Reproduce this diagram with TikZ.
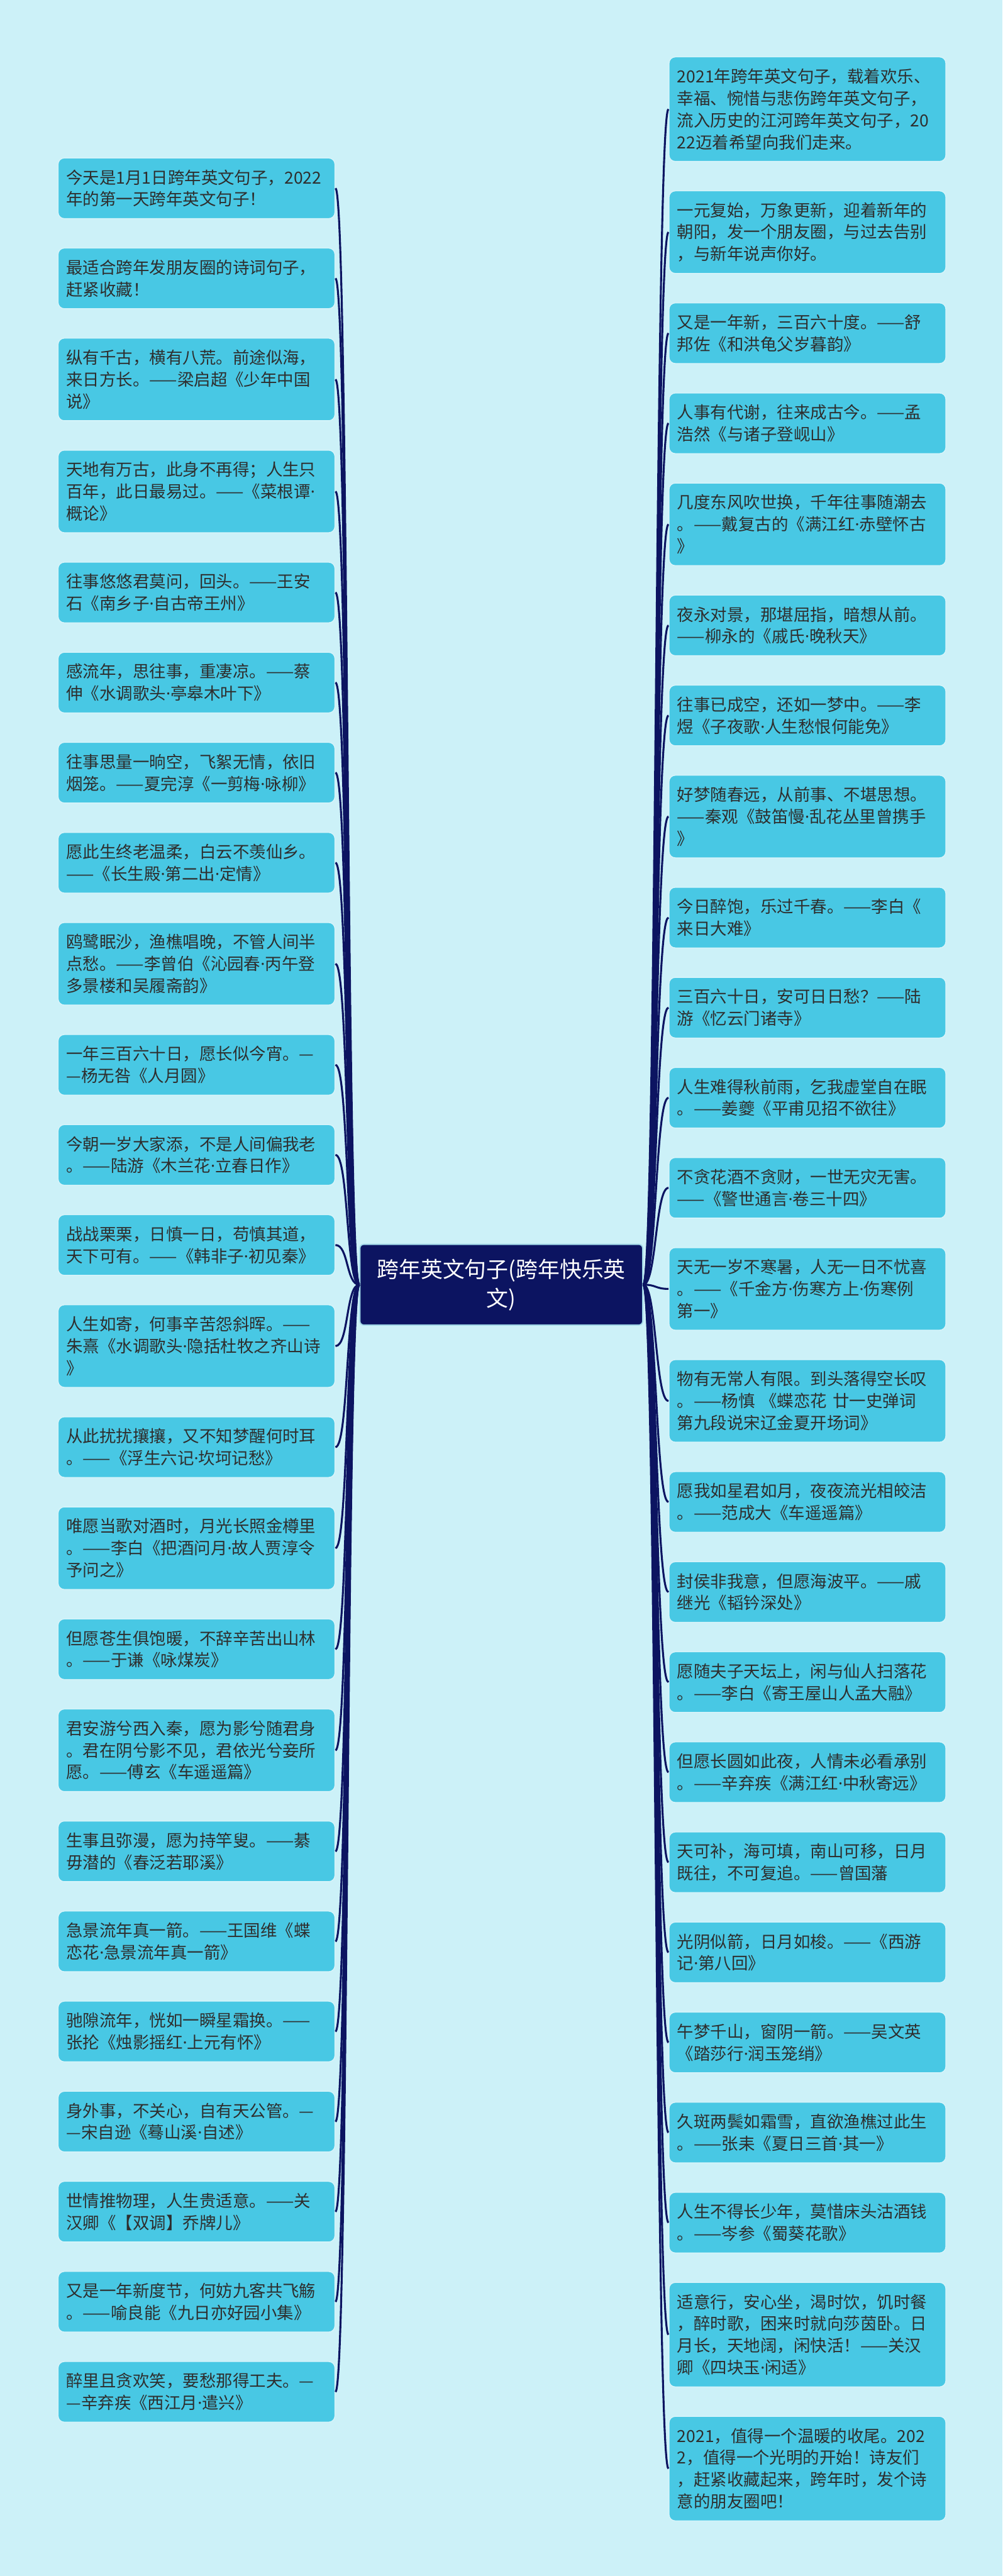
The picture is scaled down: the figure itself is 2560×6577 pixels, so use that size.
\documentclass[tikz,border=0pt]{standalone}
\usepackage{fontspec}
\setmainfont{Noto Sans CJK SC}
\newfontfamily\dotfont{Noto Sans}
\newcommand\md{{\dotfont\symbol{"00B7}}}
\DeclareRobustCommand\boxfont{\fontsize{42.5}{56}\selectfont\hyphenpenalty=10000\relax\exhyphenpenalty=10000\relax}
\definecolor{bg}{HTML}{CCF1F8}
\definecolor{boxc}{HTML}{48C8E4}
\definecolor{boxline}{HTML}{D6F4FA}
\definecolor{txt}{HTML}{2E2E2E}
\definecolor{navy}{HTML}{0C1461}
\definecolor{rootline}{HTML}{9FD6E6}
\begin{document}
\begin{tikzpicture}[
  box/.style={rectangle, rounded corners=16pt, fill=boxc, draw=boxline, line width=2.5pt,
    text=txt, align=left, text width=665pt, inner xsep=21pt, inner ysep=8pt,
    font=\boxfont, anchor=north west},
  two/.style={minimum height=155pt},
  three/.style={minimum height=211pt},
  four/.style={minimum height=267pt},
  conn/.style={draw=navy, line width=5pt},
  rootbox/.style={rectangle, rounded corners=10pt, fill=navy, draw=rootline, line width=3pt,
    text=white, align=center, minimum width=722pt, minimum height=206pt,
    font=\fontsize{56}{74}\selectfont}
]
\useasboundingbox (0pt,0pt) rectangle (2560pt,-6577pt);
\fill[bg] (0pt,0pt) rectangle (2560pt,-6577pt);

\node[rootbox] (C) at (1280pt,-3280pt) {跨年英文句子(跨年快乐英\\文)};

% left column
\node[box,two]   (L1)  at (147pt,-402pt)  {今天是1月1日跨年英文句子，2022\\年的第一天跨年英文句子！};
\node[box,two]   (L2)  at (147pt,-632pt)  {最适合跨年发朋友圈的诗词句子，\\赶紧收藏！};
\node[box,three] (L3)  at (147pt,-862pt)  {纵有千古，横有八荒。前途似海，\\来日方长。——梁启超《少年中国\\说》};
\node[box,three] (L4)  at (147pt,-1148pt) {天地有万古，此身不再得；人生只\\百年，此日最易过。——《菜根谭\md{}\\概论》};
\node[box,two]   (L5)  at (147pt,-1434pt) {往事悠悠君莫问，回头。——王安\\石《南乡子\md{}自古帝王州》};
\node[box,two]   (L6)  at (147pt,-1664pt) {感流年，思往事，重凄凉。——蔡\\伸《水调歌头\md{}亭皋木叶下》};
\node[box,two]   (L7)  at (147pt,-1894pt) {往事思量一晌空，飞絮无情，依旧\\烟笼。——夏完淳《一剪梅\md{}咏柳》};
\node[box,two]   (L8)  at (147pt,-2124pt) {愿此生终老温柔，白云不羡仙乡。\\——《长生殿\md{}第二出\md{}定情》};
\node[box,three] (L9)  at (147pt,-2354pt) {鸥鹭眠沙，渔樵唱晚，不管人间半\\点愁。——李曾伯《沁园春\md{}丙午登\\多景楼和吴履斋韵》};
\node[box,two]   (L10) at (147pt,-2640pt) {一年三百六十日，愿长似今宵。—\\—杨无咎《人月圆》};
\node[box,two]   (L11) at (147pt,-2870pt) {今朝一岁大家添，不是人间偏我老\\。——陆游《木兰花\md{}立春日作》};
\node[box,two]   (L12) at (147pt,-3100pt) {战战栗栗，日慎一日，苟慎其道，\\天下可有。——《韩非子\md{}初见秦》};
\node[box,three] (L13) at (147pt,-3330pt) {人生如寄，何事辛苦怨斜晖。——\\朱熹《水调歌头\md{}隐括杜牧之齐山诗\\》};
\node[box,two]   (L14) at (147pt,-3616pt) {从此扰扰攘攘，又不知梦醒何时耳\\。——《浮生六记\md{}坎坷记愁》};
\node[box,three] (L15) at (147pt,-3846pt) {唯愿当歌对酒时，月光长照金樽里\\。——李白《把酒问月\md{}故人贾淳令\\予问之》};
\node[box,two]   (L16) at (147pt,-4132pt) {但愿苍生俱饱暖，不辞辛苦出山林\\。——于谦《咏煤炭》};
\node[box,three] (L17) at (147pt,-4362pt) {君安游兮西入秦，愿为影兮随君身\\。君在阴兮影不见，君依光兮妾所\\愿。——傅玄《车遥遥篇》};
\node[box,two]   (L18) at (147pt,-4648pt) {生事且弥漫，愿为持竿叟。——綦\\毋潜的《春泛若耶溪》};
\node[box,two]   (L19) at (147pt,-4878pt) {急景流年真一箭。——王国维《蝶\\恋花\md{}急景流年真一箭》};
\node[box,two]   (L20) at (147pt,-5108pt) {驰隙流年，恍如一瞬星霜换。——\\张抡《烛影摇红\md{}上元有怀》};
\node[box,two]   (L21) at (147pt,-5338pt) {身外事，不关心，自有天公管。—\\—宋自逊《蓦山溪\md{}自述》};
\node[box,two]   (L22) at (147pt,-5568pt) {世情推物理，人生贵适意。——关\\汉卿《【双调】乔牌儿》};
\node[box,two]   (L23) at (147pt,-5798pt) {又是一年新度节，何妨九客共飞觞\\。——喻良能《九日亦好园小集》};
\node[box,two]   (L24) at (147pt,-6028pt) {醉里且贪欢笑，要愁那得工夫。—\\—辛弃疾《西江月\md{}遣兴》};

% right column
\node[box,four]  (R1)  at (1707pt,-144pt)  {2021年跨年英文句子，载着欢乐、\\幸福、惋惜与悲伤跨年英文句子，\\流入历史的江河跨年英文句子，20\\22迈着希望向我们走来。};
\node[box,three] (R2)  at (1707pt,-486pt)  {一元复始，万象更新，迎着新年的\\朝阳，发一个朋友圈，与过去告别\\，与新年说声你好。};
\node[box,two]   (R3)  at (1707pt,-772pt)  {又是一年新，三百六十度。——舒\\邦佐《和洪龟父岁暮韵》};
\node[box,two]   (R4)  at (1707pt,-1002pt) {人事有代谢，往来成古今。——孟\\浩然《与诸子登岘山》};
\node[box,three] (R5)  at (1707pt,-1232pt) {几度东风吹世换，千年往事随潮去\\。——戴复古的《满江红\md{}赤壁怀古\\》};
\node[box,two]   (R6)  at (1707pt,-1518pt) {夜永对景，那堪屈指，暗想从前。\\——柳永的《戚氏\md{}晚秋天》};
\node[box,two]   (R7)  at (1707pt,-1748pt) {往事已成空，还如一梦中。——李\\煜《子夜歌\md{}人生愁恨何能免》};
\node[box,three] (R8)  at (1707pt,-1978pt) {好梦随春远，从前事、不堪思想。\\——秦观《鼓笛慢\md{}乱花丛里曾携手\\》};
\node[box,two]   (R9)  at (1707pt,-2264pt) {今日醉饱，乐过千春。——李白《\\来日大难》};
\node[box,two]   (R10) at (1707pt,-2494pt) {三百六十日，安可日日愁？——陆\\游《忆云门诸寺》};
\node[box,two]   (R11) at (1707pt,-2724pt) {人生难得秋前雨，乞我虚堂自在眠\\。——姜夔《平甫见招不欲往》};
\node[box,two]   (R12) at (1707pt,-2954pt) {不贪花酒不贪财，一世无灾无害。\\——《警世通言\md{}卷三十四》};
\node[box,three] (R13) at (1707pt,-3184pt) {天无一岁不寒暑，人无一日不忧喜\\。——《千金方\md{}伤寒方上\md{}伤寒例\\第一》};
\node[box,three] (R14) at (1707pt,-3470pt) {物有无常人有限。到头落得空长叹\\。——杨慎 《蝶恋花 廿一史弹词\\第九段说宋辽金夏开场词》};
\node[box,two]   (R15) at (1707pt,-3756pt) {愿我如星君如月，夜夜流光相皎洁\\。——范成大《车遥遥篇》};
\node[box,two]   (R16) at (1707pt,-3986pt) {封侯非我意，但愿海波平。——戚\\继光《韬钤深处》};
\node[box,two]   (R17) at (1707pt,-4216pt) {愿随夫子天坛上，闲与仙人扫落花\\。——李白《寄王屋山人孟大融》};
\node[box,two]   (R18) at (1707pt,-4446pt) {但愿长圆如此夜，人情未必看承别\\。——辛弃疾《满江红\md{}中秋寄远》};
\node[box,two]   (R19) at (1707pt,-4676pt) {天可补，海可填，南山可移，日月\\既往，不可复追。——曾国藩};
\node[box,two]   (R20) at (1707pt,-4906pt) {光阴似箭，日月如梭。——《西游\\记\md{}第八回》};
\node[box,two]   (R21) at (1707pt,-5136pt) {午梦千山，窗阴一箭。——吴文英\\《踏莎行\md{}润玉笼绡》};
\node[box,two]   (R22) at (1707pt,-5366pt) {久斑两鬓如霜雪，直欲渔樵过此生\\。——张耒《夏日三首\md{}其一》};
\node[box,two]   (R23) at (1707pt,-5596pt) {人生不得长少年，莫惜床头沽酒钱\\。——岑参《蜀葵花歌》};
\node[box,four]  (R24) at (1707pt,-5826pt) {适意行，安心坐，渴时饮，饥时餐\\，醉时歌，困来时就向莎茵卧。日\\月长，天地阔，闲快活！——关汉\\卿《四块玉\md{}闲适》};
\node[box,four]  (R25) at (1707pt,-6168pt) {2021，值得一个温暖的收尾。202\\2，值得一个光明的开始！诗友们\\，赶紧收藏起来，跨年时，发个诗\\意的朋友圈吧！};

% connectors
\foreach \i in {1,...,24}{
  \draw[conn] (C.west) .. controls +(-34pt,0pt) and +(34pt,0pt) .. (L\i.east);
}
\foreach \i in {1,...,25}{
  \draw[conn] (C.east) .. controls +(34pt,0pt) and +(-34pt,0pt) .. (R\i.west);
}
\end{tikzpicture}
\end{document}
